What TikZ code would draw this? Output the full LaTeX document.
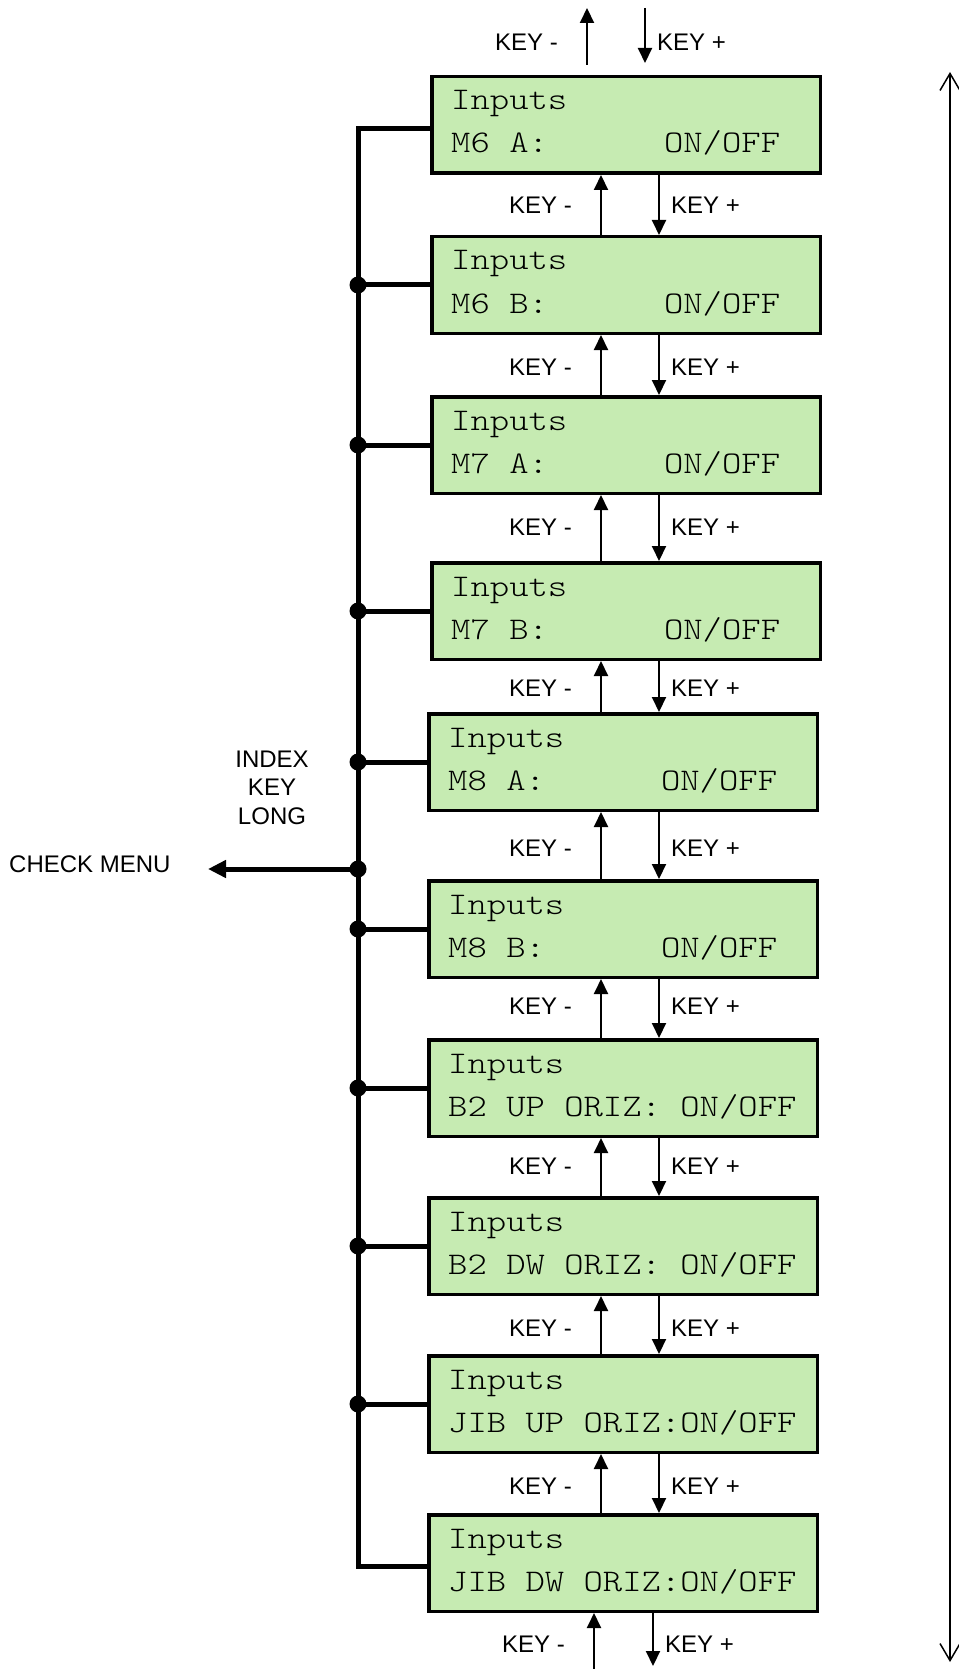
\documentclass[tikz,border=0pt]{standalone}
\usepackage{fontspec}
\setmainfont{Liberation Sans}
\newfontfamily\lcdfont[FakeStretch=1.17]{Latin Modern Mono Light}
\usetikzlibrary{arrows.meta}
\definecolor{lcdgreen}{RGB}{198,235,178}
\newcommand\lcdpanel[4]{%
  \node[lcdbox] (#1) at (#2,#3) {};
  \node[lcdtxt] (#1a) at (#2+21,#3+35) {Inputs};
  \node[lcdtxt] (#1b) at (#2+21,#3+78) {#4};
}
\begin{document}
\begin{tikzpicture}[x=1pt,y=-1pt,
  lcdbox/.style={draw, line width=3.5pt, fill=lcdgreen, minimum width=388.5pt,
    minimum height=96.5pt, inner sep=0pt, anchor=north west},
  lcdtxt/.style={font=\lcdfont\fontsize{31.5}{38}\selectfont, anchor=base west, inner sep=0pt},
  keylbl/.style={font=\fontsize{24}{28}\selectfont, inner sep=0pt},
  keyarrow/.style={line width=2pt, -{Triangle[length=15pt,width=14pt]}},
  bus/.style={line width=5pt},
  junctiondot/.style={fill, circle, inner sep=0pt, minimum size=17pt},
  plainlbl/.style={font=\fontsize{24}{28.5}\selectfont, inner sep=0pt, align=center}
]
\useasboundingbox (0,0) rectangle (958,1669);

% panels
\lcdpanel{b1}{430}{75}{M6 A:~~~~~~ON/OFF}
\lcdpanel{b2}{430}{235}{M6 B:~~~~~~ON/OFF}
\lcdpanel{b3}{430}{395}{M7 A:~~~~~~ON/OFF}
\lcdpanel{b4}{430}{561}{M7 B:~~~~~~ON/OFF}
\lcdpanel{b5}{427}{712}{M8 A:~~~~~~ON/OFF}
\lcdpanel{b6}{427}{879}{M8 B:~~~~~~ON/OFF}
\lcdpanel{b7}{427}{1038}{B2 UP ORIZ: ON/OFF}
\lcdpanel{b8}{427}{1196}{B2 DW ORIZ: ON/OFF}
\lcdpanel{b9}{427}{1354}{JIB UP ORIZ:ON/OFF}
\lcdpanel{b10}{427}{1513}{JIB DW ORIZ:ON/OFF}

% reference coordinates
\coordinate (up) at (601,0);
\coordinate (dn) at (659,0);
\coordinate (junc) at (358,869);
\coordinate (cmtip) at (208,869);
\coordinate (tu1) at (587,65);
\coordinate (tu2) at (587,8);
\coordinate (td1) at (645,8);
\coordinate (td2) at (645,63);
\coordinate (bu1) at (594,1669);
\coordinate (bd2) at (653,1666);
\coordinate (rtop) at (950,72);
\coordinate (rbot) at (950,1662);

% bus
\draw[bus] ([yshift=-4pt]b1.west) -| (junc) |- ([yshift=-3pt]b10.west);
\foreach \b in {b2,b3,b4,b5,b6,b7,b8,b9}{
  \draw[bus] (\b.west) -- (\b.west -| junc);
  \node[junctiondot] (d\b) at (\b.west -| junc) {};
}
\node[junctiondot] (dcm) at (junc) {};
\draw[bus, -{Triangle[length=18pt,width=17pt]}] (dcm.center) -- (cmtip);
\node[plainlbl, anchor=west] (cm) at (9,864) {CHECK MENU};
\node[plainlbl] (ikl) at (272,787.5) {INDEX\\KEY\\LONG};

% top arrows
\draw[keyarrow] (tu1) -- (tu2);
\draw[keyarrow] (td1) -- (td2);
\node[keylbl, anchor=east] (km0) at (558,42) {KEY -};
\node[keylbl, anchor=west] (kp0) at (657,42) {KEY +};

% arrows between panels
\foreach \a/\b/\y in {b1/b2/205, b2/b3/367, b3/b4/527, b4/b5/688, b5/b6/848,
                      b6/b7/1006, b7/b8/1166, b8/b9/1328, b9/b10/1486}{
  \draw[keyarrow] (\b.north -| up) -- (\a.south -| up);
  \draw[keyarrow] (\a.south -| dn) -- (\b.north -| dn);
  \node[keylbl, anchor=east] (km\b) at (572,\y) {KEY -};
  \node[keylbl, anchor=west] (kp\b) at (671,\y) {KEY +};
}

% bottom arrows
\draw[keyarrow] (bu1) -- (b10.south -| bu1);
\draw[keyarrow] (b10.south -| bd2) -- (bd2);
\node[keylbl, anchor=east] (kmb) at (565,1644) {KEY -};
\node[keylbl, anchor=west] (kpb) at (665,1644) {KEY +};

% right double arrow
\draw[line width=1.5pt, {Straight Barb[length=17pt,width=20pt]}-{Straight Barb[length=17pt,width=20pt]}] (rtop) -- (rbot);
\end{tikzpicture}
\end{document}
